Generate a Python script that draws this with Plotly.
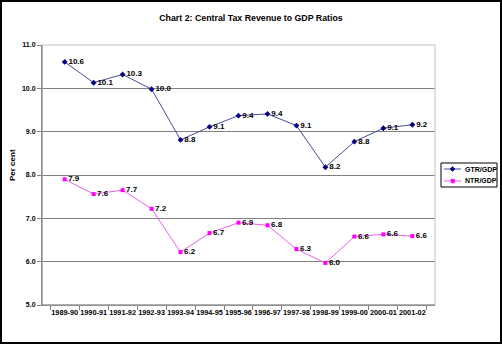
import plotly.graph_objects as go

years = ["1989-90", "1990-91", "1991-92", "1992-93", "1993-94", "1994-95", "1995-96",
         "1996-97", "1997-98", "1998-99", "1999-00", "2000-01", "2001-02"]
gtr_gdp = [10.61, 10.13, 10.32, 9.98, 8.81, 9.11, 9.37, 9.41, 9.14, 8.18, 8.77, 9.08, 9.16]
ntr_gdp = [7.90, 7.56, 7.65, 7.22, 6.22, 6.66, 6.90, 6.84, 6.29, 5.97, 6.58, 6.63, 6.59]
y_ticks = [5, 6, 7, 8, 9, 10, 11]
series_names = ["GTR/GDP", "NTR/GDP"]

FONT = "Liberation Sans, Arial, sans-serif"
GTR_LINE, GTR_MK = "#4a4a9a", "#000080"
NTR_LINE, NTR_MK = "#e860e8", "#ff00ff"

fig = go.Figure()
fig.add_trace(go.Scatter(
    x=years, y=gtr_gdp, name=series_names[0], mode="lines+markers+text",
    line=dict(color=GTR_LINE, width=1),
    marker=dict(symbol="diamond", size=4.5, color=GTR_MK),
    texttemplate="%{y:.1f}", textposition="middle right",
    textfont=dict(family=FONT, size=8, color="#000000", weight="bold"),
))
fig.add_trace(go.Scatter(
    x=years, y=ntr_gdp, name=series_names[1], mode="lines+markers+text",
    line=dict(color=NTR_LINE, width=1),
    marker=dict(symbol="square", size=4, color=NTR_MK),
    texttemplate="%{y:.1f}", textposition="middle right",
    textfont=dict(family=FONT, size=8, color="#000000", weight="bold"),
))

L, R, T, B = 42, 67, 45, 39
pw = 502 - L - R
ph = 344 - T - B


def px(x):
    return (x - L) / pw


def py(y):
    return (ph + T - y) / ph


fig.update_layout(
    width=502, height=344,
    margin=dict(l=L, r=R, t=T, b=B),
    paper_bgcolor="white", plot_bgcolor="white",
    font=dict(family=FONT, size=8, color="#000000"),
    title=dict(text="<b>Chart 2: Central Tax Revenue to GDP Ratios</b>",
               x=0.5, xanchor="center", y=1 - 18 / 344, yanchor="middle",
               font=dict(family=FONT, size=8.8, color="#000000")),
    showlegend=False,
    xaxis=dict(type="category", showgrid=False, showline=True, linecolor="#808080",
               linewidth=1, ticks="outside", tickson="boundaries", ticklen=4,
               tickcolor="#808080", tickangle=0,
               tickfont=dict(family=FONT, size=7.3, color="#000000", weight="bold")),
    yaxis=dict(range=[5, 11], tickvals=y_ticks, tickformat=".1f", showgrid=True,
               gridcolor="#808080", gridwidth=1, showline=True, linecolor="#808080",
               ticks="outside", ticklen=4, tickcolor="#808080", zeroline=False,
               tickfont=dict(family=FONT, size=7, color="#000000", weight="bold")),
)

# y-axis title
fig.add_annotation(text="<b>Per cent</b>", xref="paper", yref="paper",
                   x=px(12), y=py(165), textangle=-90, showarrow=False,
                   xanchor="center", yanchor="middle",
                   font=dict(family=FONT, size=8, color="#000000"))

# plot-area border
fig.add_shape(type="rect", xref="paper", yref="paper", x0=0, x1=1, y0=0, y1=1,
              line=dict(color="#c0c0c0", width=1), layer="above")
fig.add_shape(type="line", xref="paper", yref="paper", x0=0, x1=0, y0=0, y1=1,
              line=dict(color="#808080", width=1), layer="above")
fig.add_shape(type="line", xref="paper", yref="paper", x0=0, x1=1, y0=0, y1=0,
              line=dict(color="#808080", width=1), layer="above")

# manual legend
fig.add_shape(type="rect", xref="paper", yref="paper",
              x0=px(441), x1=px(497), y0=py(187), y1=py(163),
              line=dict(color="#000000", width=1), fillcolor="white", layer="above")
for i, (name, lc, mc) in enumerate([(series_names[0], GTR_LINE, GTR_MK),
                                    (series_names[1], NTR_LINE, NTR_MK)]):
    yy = 169 + 12 * i
    fig.add_shape(type="line", xref="paper", yref="paper",
                  x0=px(444), x1=px(461), y0=py(yy), y1=py(yy),
                  line=dict(color=lc, width=1), layer="above")
    if i == 0:
        path = (f"M {px(452.5)},{py(yy - 2.5)} L {px(455)},{py(yy)} "
                f"L {px(452.5)},{py(yy + 2.5)} L {px(450)},{py(yy)} Z")
        fig.add_shape(type="path", xref="paper", yref="paper", path=path,
                      fillcolor=mc, line=dict(color=mc, width=0.5), layer="above")
    else:
        fig.add_shape(type="rect", xref="paper", yref="paper",
                      x0=px(451), x1=px(454.5), y0=py(yy + 1.8), y1=py(yy - 1.8),
                      fillcolor=mc, line=dict(color=mc, width=0.5), layer="above")
    fig.add_annotation(text=f"<b>{name}</b>", xref="paper", yref="paper",
                       x=px(462.5), y=py(yy), showarrow=False,
                       xanchor="left", yanchor="middle",
                       font=dict(family=FONT, size=7, color="#000000"))

# outer black frame
fig.add_shape(type="rect", xref="paper", yref="paper",
              x0=px(1), x1=px(501), y0=py(343), y1=py(1),
              line=dict(color="#000000", width=2), layer="above")

fig.write_html("out.html")
